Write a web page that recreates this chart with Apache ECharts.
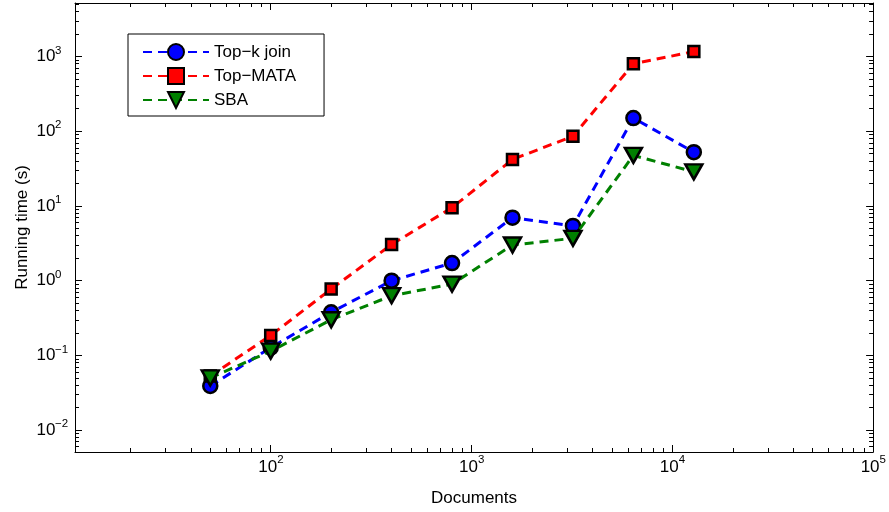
<!DOCTYPE html>
<html><head><meta charset="utf-8">
<script src="https://cdn.jsdelivr.net/npm/echarts@6/dist/echarts.min.js"></script>
<style>html,body{margin:0;padding:0;background:#fff}#c{width:889px;height:512px}</style>
</head><body><div id="c"></div>
<script>
// ---- data ----
const documents = [50, 100, 200, 400, 800, 1600, 3200, 6400, 12800];
const topkJoin  = [0.039, 0.127, 0.378, 1.0, 1.72, 6.98, 5.41, 150, 52.5];
const topMATA   = [0.053, 0.185, 0.774, 3.05, 9.5, 41.9, 85.8, 798, 1166];
const sba       = [0.05, 0.114, 0.30, 0.63, 0.90, 3.0, 3.69, 47.5, 28.6];
const seriesNames = ['Top\u2212k join', 'Top\u2212MATA', 'SBA'];
const xMajorTicks = [100, 1000, 10000, 100000];
const yMajorTicks = [0.01, 0.1, 1, 10, 100, 1000];
const xRange = [10.6, 100000];
const yRange = [0.0051, 5200];
const xTitle = 'Documents';
const yTitle = 'Running time (s)';

function minorTicks(range) {
  const out = [];
  const lo = Math.floor(Math.log10(range[0])), hi = Math.ceil(Math.log10(range[1]));
  for (let d = lo; d <= hi; d++) {
    for (let m = 2; m <= 9; m++) {
      const v = m * Math.pow(10, d);
      if (v >= range[0] && v <= range[1]) out.push(v);
    }
  }
  return out;
}
const xMinorTicks = minorTicks(xRange);
const yMinorTicks = minorTicks(yRange);

const FONT = '"Liberation Sans", Arial, Helvetica, sans-serif';
const FS = 17;
function expLabel(v) {
  const e = Math.round(Math.log10(v));
  return e < 0 ? '\u2212' + (-e) : String(e);
}

function baseAxis(position, range) {
  return {
    type: 'log', logBase: 10, min: range[0], max: range[1], position: position,
    axisLine: { show: false, onZero: false },
    axisTick: { show: false },
    axisLabel: { show: false },
    splitLine: { show: false },
    minorTick: { show: false }, minorSplitLine: { show: false }
  };
}
function tickAxis(position, range, ticks, len, line) {
  const a = baseAxis(position, range);
  a.axisLine = { show: !!line, onZero: false, lineStyle: { color: '#000', width: 1 } };
  a.axisTick = { show: true, inside: true, length: len, customValues: ticks,
                 lineStyle: { color: '#000', width: 1 } };
  return a;
}
function labelAxis(position, range, ticks, labelOpt) {
  const a = baseAxis(position, range);
  a.axisLabel = Object.assign({ show: true, customValues: ticks, fontFamily: FONT,
                                color: '#000', hideOverlap: false }, labelOpt);
  return a;
}

const xAxes = [
  Object.assign(tickAxis('bottom', xRange, xMajorTicks, 7, true), {
    name: xTitle, nameLocation: 'middle', nameGap: 38,
    nameTextStyle: { fontSize: FS, fontFamily: FONT, color: '#000' }
  }),
  tickAxis('bottom', xRange, xMinorTicks, 4, false),
  tickAxis('top', xRange, xMajorTicks, 7, true),
  tickAxis('top', xRange, xMinorTicks, 4, false),
  // base "10" of the tick labels
  labelAxis('bottom', xRange, xMajorTicks, { fontSize: FS, margin: 7, align: 'center',
            padding: [0, 6, 0, 0], formatter: () => '10' }),
  // exponent of the tick labels
  labelAxis('bottom', xRange, xMajorTicks, { fontSize: 11.5, margin: 2, align: 'left',
            padding: [0, 0, 0, 6.5], formatter: expLabel })
];
const yAxes = [
  Object.assign(tickAxis('left', yRange, yMajorTicks, 7, true), {
    name: yTitle, nameLocation: 'middle', nameGap: 44, nameRotate: 90,
    nameTextStyle: { fontSize: FS, fontFamily: FONT, color: '#000' }
  }),
  tickAxis('left', yRange, yMinorTicks, 4, false),
  tickAxis('right', yRange, yMajorTicks, 7, true),
  tickAxis('right', yRange, yMinorTicks, 4, false),
  labelAxis('left', yRange, yMajorTicks, { fontSize: FS, margin: 38.5, align: 'left',
            verticalAlign: 'middle', formatter: () => '10' }),
  labelAxis('left', yRange, yMajorTicks, { fontSize: 11.5, margin: 20, align: 'left',
            verticalAlign: 'bottom', formatter: expLabel })
];

const styles = [
  { color: '#0000ff', symbol: 'circle', size: 14, rotate: 0 },
  { color: '#ff0000', symbol: 'rect', size: 11, rotate: 0 },
  { color: '#008000', symbol: 'triangle', size: [17, 15], rotate: 180 }
];
const values = [topkJoin, topMATA, sba];

const series = values.map((vals, i) => ({
  type: 'line', name: seriesNames[i],
  xAxisIndex: 0, yAxisIndex: 0,
  data: documents.map((d, j) => [d, vals[j]]),
  symbol: styles[i].symbol, symbolSize: styles[i].size, symbolRotate: styles[i].rotate,
  showAllSymbol: true,
  lineStyle: { color: styles[i].color, width: 3, type: [9, 6] },
  itemStyle: { color: styles[i].color, borderColor: '#000', borderWidth: 2.5 },
  emphasis: { disabled: true },
  z: 2 + i
}));

const chart = echarts.init(document.getElementById('c'), null, { renderer: 'canvas' });
chart.setOption({
  animation: false,
  backgroundColor: '#fff',
  textStyle: { fontFamily: FONT },
  grid: { left: 75, right: 11, top: 3, bottom: 58, containLabel: false },
  legend: {
    orient: 'vertical', left: 128, top: 34,
    itemWidth: 66, itemHeight: 20, itemGap: 6,
    padding: [9, 28, 7, 14],
    borderColor: '#000', borderWidth: 1, backgroundColor: '#fff',
    textStyle: { fontSize: FS, color: '#000', fontFamily: FONT },
    data: seriesNames
  },
  xAxis: xAxes,
  yAxis: yAxes,
  series: series
});
</script>
</body></html>
